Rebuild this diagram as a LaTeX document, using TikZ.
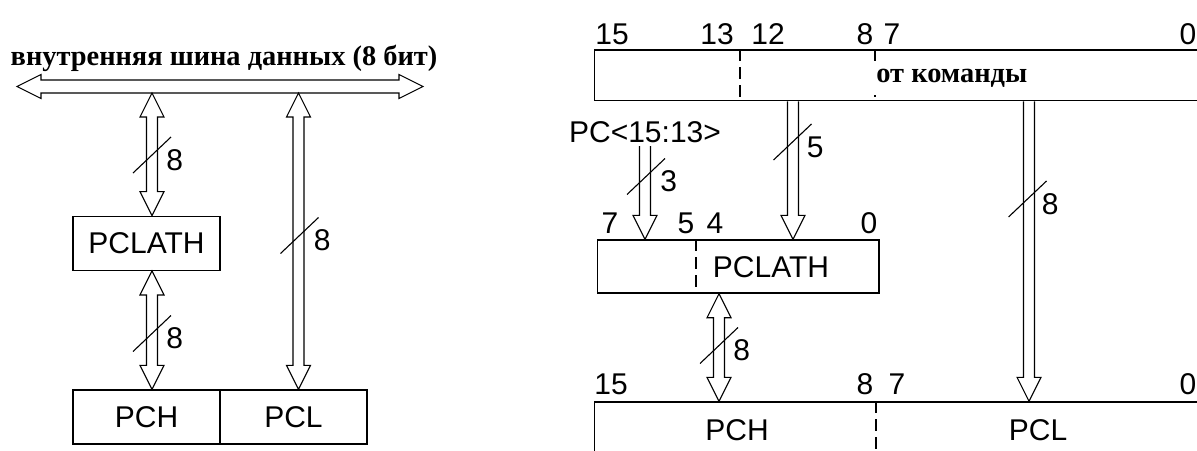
\documentclass[tikz,border=0pt]{standalone}
\usepackage{fontspec}
\setmainfont{Liberation Sans}
\newfontfamily\cyrserif{Liberation Serif}
\usetikzlibrary{calc}

\def\fatS{2.75pt}\def\fatH{6pt}\def\fatL{12pt}
\tikzset{
  wire/.style={line width=0.55pt},
  reg/.style={draw, line width=0.7pt, inner sep=0pt, minimum height=27pt, font=\fontsize{15}{18}\selectfont},
  lbl/.style={inner sep=0pt, font=\fontsize{15}{18}\selectfont},
  cyr/.style={inner sep=0pt, font=\cyrserif\bfseries\fontsize{14.2}{17}\selectfont},
  div/.style={line width=0.9pt, dash pattern=on 6pt off 3pt},
  fatshaft/.code={\def\fatS{#1}},
  % hollow bus arrow, heads at both ends
  fatboth/.style={wire, to path={
      -- ($(\tikztostart)!\fatL!(\tikztotarget)!\fatH!90:(\tikztotarget)$)
      -- ($(\tikztostart)!\fatL!(\tikztotarget)!\fatS!90:(\tikztotarget)$)
      -- ($(\tikztotarget)!\fatL!(\tikztostart)!\fatS!-90:(\tikztostart)$)
      -- ($(\tikztotarget)!\fatL!(\tikztostart)!\fatH!-90:(\tikztostart)$)
      -- (\tikztotarget)
      -- ($(\tikztotarget)!\fatL!(\tikztostart)!\fatH!90:(\tikztostart)$)
      -- ($(\tikztotarget)!\fatL!(\tikztostart)!\fatS!90:(\tikztostart)$)
      -- ($(\tikztostart)!\fatL!(\tikztotarget)!\fatS!-90:(\tikztotarget)$)
      -- ($(\tikztostart)!\fatL!(\tikztotarget)!\fatH!-90:(\tikztotarget)$)
      -- cycle}},
  % hollow bus arrow, head at target only
  fatone/.style={wire, to path={
      ($(\tikztostart)!\fatS!90:(\tikztotarget)$)
      -- ($(\tikztotarget)!\fatL!(\tikztostart)!\fatS!-90:(\tikztostart)$)
      -- ($(\tikztotarget)!\fatL!(\tikztostart)!\fatH!-90:(\tikztostart)$)
      -- (\tikztotarget)
      -- ($(\tikztotarget)!\fatL!(\tikztostart)!\fatH!90:(\tikztostart)$)
      -- ($(\tikztotarget)!\fatL!(\tikztostart)!\fatS!90:(\tikztostart)$)
      -- ($(\tikztostart)!\fatS!-90:(\tikztotarget)$)}},
  pics/bw/.style={code={
      \draw[wire] (-19,18) -- (19,-18);
      \node[lbl, anchor=west] (-n) at (14,5) {#1};
  }}
}

\begin{document}
\begin{tikzpicture}[x=0.5pt, y=-0.5pt]
  \useasboundingbox (0,0) rectangle (1197,450);
  \clip (0,0) rectangle (1197,450);

  % internal data bus
  \node[cyr, anchor=base] (bustitle) at (224,65) {внутренняя шина данных (8 бит)};
  \coordinate (busW) at (17,86.5);
  \coordinate (busE) at (423,86.5);
  \coordinate (busS) at (220,93);
  \draw[fatboth, fatshaft=3.25pt] (busW) to (busE);

  \node[reg, minimum width=73.5pt] (pclathL) at (146.5,243.25) {PCLATH};
  \node[reg, minimum width=73.5pt] (pch) at (146.5,417) {PCH};
  \node[reg, minimum width=73.5pt] (pcl) at (293.5,417) {PCL};

  \coordinate (tapA) at (152,0);
  \coordinate (tapB) at (298.5,0);
  \draw[fatboth] (tapA |- busS) to (tapA |- pclathL.north);
  \draw[fatboth] (tapA |- pclathL.south) to (tapA |- pch.north);
  \draw[fatboth] (tapB |- busS) to (tapB |- pcl.north);
  \pic (wa) at (152,155) {bw=8};
  \pic (wb) at (152,333.5) {bw=8};
  \pic (wc) at (299.5,235.5) {bw=8};

  % right: jump / call
  \node[reg, minimum width=304.2pt, minimum height=25.35pt] (instr) at (898.8,75.35) {};
  \draw[div] ([xshift=73pt]instr.north west) -- ([xshift=73pt]instr.south west);
  \draw[div] ([xshift=140.7pt]instr.north west) -- ([xshift=140.7pt]instr.south west);
  \node[cyr, anchor=base west, fill=white, inner xsep=1pt, inner ysep=4pt] (cmd) at (874,82) {от команды};
  \foreach \n/\x in {15/612, 13/717, 12/768, 8/865, 7/892, 0/1188}
    \node[lbl] (top\n) at (\x,34) {\n};

  \node[lbl, inner sep=1.5pt] (pcsrc) at (645,132) {PC<15:13>};

  \node[reg, minimum width=140.75pt, minimum height=26.5pt] (pclathR) at (738.25,266.5) {};
  \draw[div] ([xshift=49.5pt]pclathR.north west) -- ([xshift=49.5pt]pclathR.south west);
  \node[lbl] (pclathRt) at (771,267) {PCLATH};
  \foreach \n/\x in {7/610, 5/686, 4/715, 0/869}
    \node[lbl] (lat\n) at (\x,223) {\n};

  \node[reg, minimum width=304.2pt, minimum height=26.5pt] (pcR) at (898.8,428.5) {};
  \draw[div] ([xshift=141.2pt]pcR.north west) -- ([xshift=141.2pt]pcR.south west);
  \node[lbl] (pchR) at (737,430) {PCH};
  \node[lbl] (pclR) at (1038,430) {PCL};
  \foreach \n/\x in {15/611, 8/865, 7/897, 0/1188}
    \node[lbl] (bot\n) at (\x,384) {\n};

  \coordinate (tap5) at (793,0);
  \coordinate (tap8) at (1029,0);
  \coordinate (taph) at (719,0);
  \draw[fatone] (pcsrc.south) to (pcsrc.south |- pclathR.north);
  \draw[fatone] (tap5 |- instr.south) to (tap5 |- pclathR.north);
  \draw[fatone] (tap8 |- instr.south) to (tap8 |- pcR.north);
  \draw[fatboth] (taph |- pclathR.south) to (taph |- pcR.north);
  \pic (w3) at (646,176.5) {bw=3};
  \pic (w5) at (792.5,142) {bw=5};
  \pic (w8) at (1027.5,199) {bw=8};
  \pic (wh) at (719,345.5) {bw=8};
\end{tikzpicture}
\end{document}
